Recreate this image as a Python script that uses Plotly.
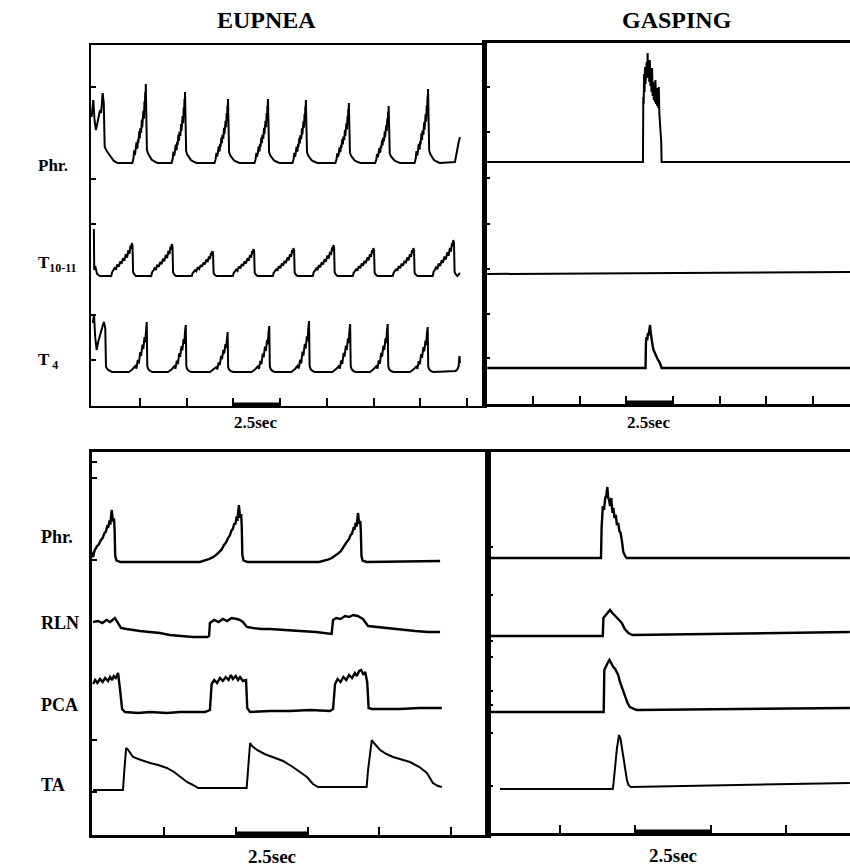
import plotly.graph_objects as go

W, H = 850, 867

# ---------------- recorded activity (time in s, amplitude in arbitrary units) ----------------
# Eupnea, slow sweep: repeating bursts described by a burst profile + per-burst peak time/amplitude
EUP_PHR_PEAK_T = [2.81, 4.91, 7.21, 9.35, 11.38, 13.68, 15.81, 17.92]
EUP_PHR_PEAK_A = [79, 71, 64, 64, 63, 60, 57, 74]
EUP_PHR_PROFILE_DT = [-0.72, -0.66, -0.62, -0.58, -0.55, -0.50, -0.45, -0.42, -0.40, -0.35, -0.32,
                      -0.30, -0.25, -0.21, -0.19, -0.17, -0.13, -0.10, -0.07, -0.05, -0.03,
                      -0.015, 0.0, 0.02, 0.06, 0.12, 0.20, 0.32, 0.46, 0.62]
EUP_PHR_PROFILE_F = [0.0, 0.06, 0.16, 0.10, 0.14, 0.26, 0.18, 0.30, 0.25, 0.40, 0.31, 0.44, 0.38,
                     0.55, 0.45, 0.52, 0.66, 0.56, 0.78, 0.66, 0.90, 0.78, 1.0, 0.22, 0.17, 0.12,
                     0.08, 0.04, 0.02, 0.0]
EUP_PHR_HEAD_T = [-0.09, -0.03, 0.0, 0.07, 0.14, 0.22, 0.30, 0.36, 0.42, 0.47, 0.50, 0.56, 0.61,
                  0.72, 0.90, 1.10, 1.30]
EUP_PHR_HEAD_A = [46, 55, 63, 42, 33, 40, 48, 53, 50, 64, 70, 60, 16, 12, 7, 2, 0]
EUP_PHR_TAIL_T = [19.36, 19.44, 19.50, 19.56, 19.63]
EUP_PHR_TAIL_A = [1, 10, 14, 21, 26]

EUP_T10_PEAK_T = [2.06, 4.20, 6.37, 8.57, 10.71, 12.85, 14.99, 17.13, 19.27]
EUP_T10_PEAK_A = [33, 32, 25, 27, 28, 31, 28, 28, 36]
EUP_T10_PROFILE_DT = [-1.10, -1.05, -0.98, -0.92, -0.85, -0.78, -0.70, -0.62, -0.55, -0.47, -0.40,
                      -0.32, -0.25, -0.18, -0.12, -0.07, -0.03, 0.0, 0.04, 0.07, 0.12, 0.22]
EUP_T10_PROFILE_F = [0.0, 0.12, 0.18, 0.24, 0.19, 0.35, 0.28, 0.44, 0.37, 0.54, 0.46, 0.66, 0.56,
                     0.78, 0.68, 0.92, 0.82, 1.0, 0.92, 0.12, 0.06, 0.0]
EUP_T10_HEAD_T = [0.03, 0.05, 0.10, 0.20, 0.35]
EUP_T10_HEAD_A = [47, 6, 10, 2, 0]
EUP_T10_TAIL_T = [19.63]
EUP_T10_TAIL_A = [3]

EUP_T4_PEAK_T = [2.86, 4.95, 7.19, 9.42, 11.55, 13.75, 15.76, 17.90]
EUP_T4_PEAK_A = [50, 47, 40, 46, 51, 48, 48, 45]
EUP_T4_PROFILE_DT = [-0.95, -0.75, -0.62, -0.55, -0.48, -0.42, -0.35, -0.30, -0.23, -0.18, -0.12,
                     -0.08, -0.04, 0.0, 0.03, 0.08, 0.18, 0.30]
EUP_T4_PROFILE_F = [0.0, 0.06, 0.12, 0.07, 0.24, 0.17, 0.40, 0.32, 0.55, 0.46, 0.70, 0.60, 0.86,
                    1.0, 0.12, 0.06, 0.02, 0.0]
EUP_T4_HEAD_T = [-0.03, 0.04, 0.10, 0.18, 0.26, 0.34, 0.42, 0.50, 0.57, 0.64, 0.68, 0.80, 1.0]
EUP_T4_HEAD_A = [49, 57, 35, 22, 30, 36, 40, 46, 50, 44, 5, 2, 0]
EUP_T4_TAIL_T = [19.40, 19.50, 19.56, 19.60, 19.63]
EUP_T4_TAIL_A = [1, 3, 6, 16, 9]

# Gasping, slow sweep
GASP_PHR_T = [0.05, 8.39, 8.41, 8.43, 8.45, 8.48, 8.50, 8.53, 8.56, 8.59, 8.62, 8.64, 8.67, 8.70,
              8.73, 8.76, 8.79, 8.82, 8.85, 8.88, 8.91, 8.94, 8.97, 9.00, 9.03, 9.06, 9.09, 9.12,
              9.15, 9.18, 9.21, 9.24, 9.27, 9.30, 9.34, 9.37, 9.39, 19.5]
GASP_PHR_A = [0, 0, 65, 58, 88, 70, 95, 78, 90, 100, 84, 109, 88, 99, 80, 102, 76, 85, 70, 94,
              66, 80, 62, 75, 60, 82, 58, 70, 56, 74, 54, 75, 48, 39, 35, 20, 0, 0]
GASP_T10_T = [0.05, 19.5]
GASP_T10_A = [0, 2]
GASP_T4_T = [0.05, 8.53, 8.55, 8.58, 8.62, 8.66, 8.70, 8.74, 8.77, 8.80, 8.84, 8.88, 8.92, 8.96,
             9.02, 9.10, 9.20, 9.30, 9.39, 19.5]
GASP_T4_A = [0, 0, 25, 31, 28, 35, 33, 40, 43, 36, 30, 28, 21, 18, 15, 12, 8, 5, 0, 0]

# Eupnea, fast sweep
EUP2_PHR_PEAK_T = [0.68, 5.11, 9.26]
EUP2_PHR_PEAK_A = [52, 57, 49]
EUP2_PHR_PROFILE_DT = [-1.36, -1.20, -1.05, -0.92, -0.80, -0.70, -0.60, -0.52, -0.45, -0.38, -0.32,
                       -0.26, -0.21, -0.16, -0.12, -0.08, -0.05, -0.02, 0.0, 0.04, 0.08, 0.10,
                       0.12, 0.16, 0.30]
EUP2_PHR_PROFILE_F = [0.0, 0.02, 0.05, 0.08, 0.12, 0.17, 0.22, 0.30, 0.34, 0.42, 0.46, 0.55, 0.58,
                      0.68, 0.66, 0.80, 0.72, 0.90, 1.0, 0.78, 0.84, 0.60, 0.12, 0.03, 0.0]
EUP2_PHR_HEAD_T = [0.03]
EUP2_PHR_HEAD_A = [5]
EUP2_PHR_TAIL_T = [12.12]
EUP2_PHR_TAIL_A = [1]

EUP2_RLN_T = [0.03, 0.20, 0.35, 0.50, 0.62, 0.79, 0.85, 0.90, 1.00, 1.20, 1.40, 1.66, 2.00, 2.36,
              2.70, 3.06, 3.50, 4.00, 4.07, 4.10, 4.25, 4.40, 4.55, 4.70, 4.85, 5.04, 5.15, 5.25,
              5.39, 5.60, 5.90, 6.19, 6.60, 7.24, 7.80, 8.28, 8.34, 8.39, 8.50, 8.65, 8.81, 8.95,
              9.09, 9.25, 9.43, 9.61, 9.90, 10.37, 10.80, 11.25, 11.70, 12.12]
EUP2_RLN_A = [15, 16, 14, 17, 15, 19, 16, 14, 9, 8, 7, 6, 5, 4, 2, 1, 0, 0, 1, 14, 17, 15, 18, 16,
              19, 18, 17, 15, 10, 9, 8, 8, 7, 6, 5, 3, 3, 17, 19, 18, 21, 20, 22, 21, 18, 11, 10,
              9, 7, 6, 5, 5]

EUP2_PCA_T = [0.03, 0.10, 0.18, 0.27, 0.36, 0.45, 0.55, 0.62, 0.69, 0.75, 0.82, 0.90, 0.97, 1.04,
              1.14, 1.60, 2.01, 2.60, 3.06, 3.50, 3.93, 4.10, 4.16, 4.25, 4.35, 4.45, 4.55, 4.65,
              4.75, 4.83, 4.90, 5.00, 5.08, 5.15, 5.25, 5.36, 5.40, 5.50, 6.20, 6.89, 7.60, 8.28,
              8.39, 8.46, 8.55, 8.65, 8.75, 8.85, 8.95, 9.05, 9.15, 9.22, 9.30, 9.37, 9.44, 9.51,
              9.58, 9.63, 9.75, 10.20, 10.72, 11.40, 12.18]
EUP2_PCA_A = [27, 31, 28, 32, 29, 33, 30, 34, 31, 35, 33, 38, 21, 2, -1, -2, -1, -2, -1, -1, -1, 1,
              27, 31, 28, 33, 30, 34, 31, 36, 32, 35, 31, 34, 30, 31, 3, -1, 0, 0, 1, 0, 2, 27,
              32, 29, 34, 31, 36, 33, 38, 35, 40, 41, 37, 39, 29, 3, 2, 2, 2, 3, 3]

EUP2_TA_T = [0.03, 1.07, 1.12, 1.18, 1.25, 1.42, 1.70, 2.01, 2.30, 2.60, 2.85, 3.06, 3.30, 3.51,
             3.69, 5.38, 5.43, 5.50, 5.57, 5.74, 6.00, 6.30, 6.65, 6.99, 7.25, 7.48, 7.69, 7.87,
             9.56, 9.61, 9.74, 9.78, 10.03, 10.25, 10.48, 10.80, 11.07, 11.40, 11.66, 11.87,
             12.05, 12.18]
EUP2_TA_A = [-3, -3, 17, 39, 37, 30, 27, 24, 22, 19, 15, 10, 5, 2, -1, -1, 17, 44, 41, 37, 33, 30,
             26, 20, 15, 10, 3, 0, 0, 17, 47, 45, 37, 33, 30, 27, 25, 20, 14, 4, 1, 0]

# Gasping, fast sweep
GASP2_PHR_T = [0.18, 3.86, 3.88, 3.92, 3.96, 4.00, 4.04, 4.07, 4.10, 4.13, 4.16, 4.20, 4.24, 4.27,
               4.31, 4.35, 4.39, 4.43, 4.47, 4.51, 4.55, 4.60, 4.66, 4.71, 12.12]
GASP2_PHR_A = [0, 0, 30, 52, 48, 60, 63, 71, 60, 58, 52, 60, 45, 50, 40, 43, 33, 35, 27, 25, 18,
               6, 2, 0, 0]
GASP2_RLN_T = [0.18, 3.92, 3.94, 4.00, 4.08, 4.16, 4.24, 4.31, 4.38, 4.46, 4.55, 4.65, 4.77,
               4.90, 12.12]
GASP2_RLN_A = [-1, -1, 17, 19, 22, 25, 22, 20, 18, 15, 12, 6, 2, 0, 3]
GASP2_PCA_T = [0.18, 3.95, 3.97, 4.02, 4.08, 4.14, 4.20, 4.27, 4.33, 4.38, 4.43, 4.49, 4.55,
               4.60, 4.66, 4.74, 4.82, 5.04, 12.12]
GASP2_PCA_A = [-2, -2, 40, 44, 47, 50, 46, 43, 41, 37, 35, 28, 23, 18, 13, 7, 3, 0, 2]
GASP2_TA_T = [0.51, 4.25, 4.27, 4.32, 4.39, 4.46, 4.51, 4.55, 4.60, 4.66, 4.72, 4.77, 4.85, 12.12]
GASP2_TA_A = [-1, -1, 3, 18, 40, 53, 49, 41, 30, 18, 8, 3, 1, 5]

# Time-scale bars (s)
SCALE_BAR_SLOW = (7.5, 10.0)
SCALE_BAR_FAST = (5.0, 7.5)
SCALE_LABEL = "2.5sec"


def burst_train(peak_t, peak_a, prof_dt, prof_f, head_t, head_a, tail_t, tail_a):
    """Concatenate a burst profile placed at every peak with the leading/trailing segments."""
    pts = list(zip(head_t, head_a))
    for tp, ap in zip(peak_t, peak_a):
        pts += [(tp + d, ap * f) for d, f in zip(prof_dt, prof_f)]
    pts += list(zip(tail_t, tail_a))
    pts.sort(key=lambda p: p[0])
    return [p[0] for p in pts], [p[1] for p in pts]


# ---------------- panels (pixel frames on the page) ----------------
def px_x(v):
    return v / W


def px_y(v):
    return 1 - v / H


panels = {
    # name: page box, time origin (px), px per second, axis id
    "TL": dict(box=(91, 485, 45, 406), t0=93.3, pps=18.68, ax="", right=True, lw=2.2),
    "TR": dict(box=(485, 850, 43, 404), t0=486.3, pps=18.67, ax="2", right=False, lw=2.6),
    "BL": dict(box=(92, 488, 452, 835), t0=92.25, pps=28.7, ax="3", right=True, lw=3.0),
    "BR": dict(box=(488, 850, 452, 833), t0=484.7, pps=30.13, ax="4", right=False, lw=3.0),
}

# baseline of each channel, in units above the panel floor
traces = [
    ("TL", burst_train(EUP_PHR_PEAK_T, EUP_PHR_PEAK_A, EUP_PHR_PROFILE_DT, EUP_PHR_PROFILE_F,
                       EUP_PHR_HEAD_T, EUP_PHR_HEAD_A, EUP_PHR_TAIL_T, EUP_PHR_TAIL_A), 243, 2.0),
    ("TL", burst_train(EUP_T10_PEAK_T, EUP_T10_PEAK_A, EUP_T10_PROFILE_DT, EUP_T10_PROFILE_F,
                       EUP_T10_HEAD_T, EUP_T10_HEAD_A, EUP_T10_TAIL_T, EUP_T10_TAIL_A), 130, 2.0),
    ("TL", burst_train(EUP_T4_PEAK_T, EUP_T4_PEAK_A, EUP_T4_PROFILE_DT, EUP_T4_PROFILE_F,
                       EUP_T4_HEAD_T, EUP_T4_HEAD_A, EUP_T4_TAIL_T, EUP_T4_TAIL_A), 34, 2.0),
    ("TR", (GASP_PHR_T, GASP_PHR_A), 242, 2.0),
    ("TR", (GASP_T10_T, GASP_T10_A), 130, 2.0),
    ("TR", (GASP_T4_T, GASP_T4_A), 36, 2.4),
    ("BL", burst_train(EUP2_PHR_PEAK_T, EUP2_PHR_PEAK_A, EUP2_PHR_PROFILE_DT, EUP2_PHR_PROFILE_F,
                       EUP2_PHR_HEAD_T, EUP2_PHR_HEAD_A, EUP2_PHR_TAIL_T, EUP2_PHR_TAIL_A), 273, 2.4),
    ("BL", (EUP2_RLN_T, EUP2_RLN_A), 198, 2.4),
    ("BL", (EUP2_PCA_T, EUP2_PCA_A), 124, 2.4),
    ("BL", (EUP2_TA_T, EUP2_TA_A), 48, 2.0),
    ("BR", (GASP2_PHR_T, GASP2_PHR_A), 275, 2.4),
    ("BR", (GASP2_RLN_T, GASP2_RLN_A), 198, 2.4),
    ("BR", (GASP2_PCA_T, GASP2_PCA_A), 123, 2.4),
    ("BR", (GASP2_TA_T, GASP2_TA_A), 45, 2.0),
]

# small inside ticks along the left edge of each panel (units above panel floor)
left_ticks = {
    "TL": [46, 91, 182, 227, 319],
    "TR": [46, 90, 135, 180, 226, 272, 317],
    "BL": [43, 95, 275, 357, 373],
    "BR": [47, 100, 128, 142, 176, 192, 238, 286],
}

fig = go.Figure()
layout = dict(
    width=W, height=H, margin=dict(l=0, r=0, t=0, b=0),
    paper_bgcolor="white", plot_bgcolor="white", showlegend=False,
)
shapes = []

for name, p in panels.items():
    x0, x1, y0, y1 = p["box"]
    t_lo = (x0 - p["t0"]) / p["pps"]
    t_hi = (x1 - p["t0"]) / p["pps"]
    height_units = y1 - y0
    xa = "xaxis" + p["ax"]
    ya = "yaxis" + p["ax"]
    xr = "x" + p["ax"]
    yr = "y" + p["ax"]
    layout[xa] = dict(
        domain=[px_x(x0), min(px_x(x1), 1.0)], anchor=yr, range=[t_lo, t_hi],
        showline=True, linecolor="black", linewidth=p["lw"], mirror=True,
        ticks="inside", ticklen=8, tickwidth=2.4, tickcolor="black",
        tickvals=[2.5 * k for k in range(1, 9)], showticklabels=False,
        showgrid=False, zeroline=False, fixedrange=True,
    )
    layout[ya] = dict(
        domain=[px_y(y1), px_y(y0)], anchor=xr, range=[0, height_units],
        showline=True, linecolor="black", linewidth=p["lw"], mirror=p["right"],
        ticks="inside", ticklen=5, tickwidth=1.5, tickcolor="black",
        tickvals=left_ticks[name], showticklabels=False,
        showgrid=False, zeroline=False, fixedrange=True,
    )
    bar = SCALE_BAR_SLOW if name in ("TL", "TR") else SCALE_BAR_FAST
    shapes.append(dict(type="rect", xref=xr, yref=yr, x0=bar[0], x1=bar[1], y0=0, y1=3.5,
                       fillcolor="black", line=dict(width=0)))

for name, (tt, aa), base, lw in traces:
    ax = panels[name]["ax"]
    fig.add_trace(go.Scatter(
        x=tt, y=[base + a for a in aa], mode="lines",
        line=dict(color="black", width=lw), hoverinfo="skip",
        xaxis="x" + ax, yaxis="y" + ax,
    ))

serif = "Liberation Serif, Times New Roman, serif"
annotations = []


def label(text, x, y, size, anchor="center"):
    annotations.append(dict(
        text="<b>%s</b>" % text, x=px_x(x), y=px_y(y), xref="paper", yref="paper",
        xanchor=anchor, yanchor="middle", showarrow=False,
        font=dict(family=serif, size=size, color="black"),
    ))


label("EUPNEA", 266, 20, 24)
label("GASPING", 677, 20, 24)
label("Phr.", 36, 166, 17, "left")
label("T<sub>10-11</sub>", 36, 264, 17, "left")
label("T<sub> 4</sub>", 36, 361, 17, "left")
label("Phr.", 39, 537, 18, "left")
label("RLN", 39, 623, 18, "left")
label("PCA", 39, 705, 18, "left")
label("TA", 39, 785, 18, "left")
label(SCALE_LABEL, 256, 423, 17)
label(SCALE_LABEL, 648, 423, 17)
label(SCALE_LABEL, 272, 856, 19)
label(SCALE_LABEL, 673, 855, 19)

layout["shapes"] = shapes
layout["annotations"] = annotations
fig.update_layout(**layout)
fig.write_html("out.html")
